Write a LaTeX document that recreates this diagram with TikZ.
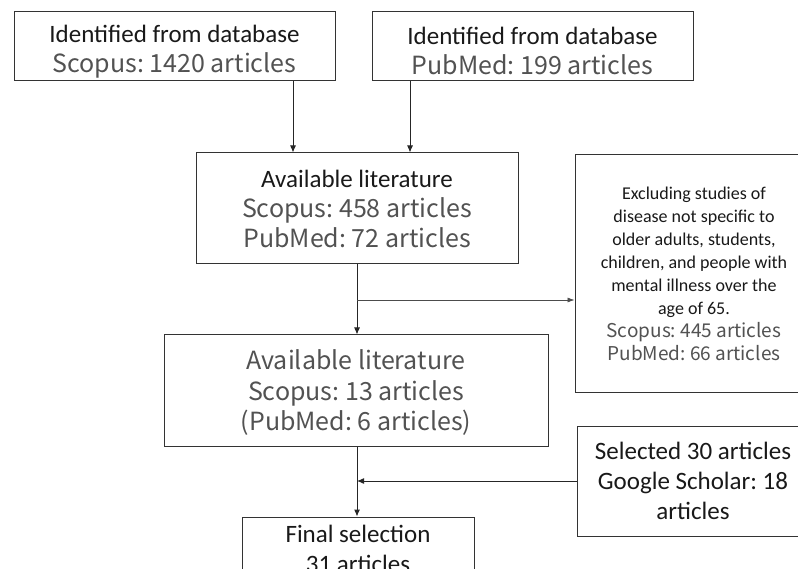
\documentclass[tikz,border=0pt]{standalone}
\usepackage{fontspec}
\setmainfont{Carlito}
\newfontfamily\cjk{Noto Sans CJK JP}
\usetikzlibrary{arrows.meta}
\definecolor{thin}{gray}{0.32}
\begin{document}
\frenchspacing
\begin{tikzpicture}[x=1pt,y=-1pt,
  box/.style={draw=black!80,line width=1pt,rectangle,inner sep=0pt,align=center,text=black!90,
    font=\frenchspacing\fontsize{25}{30}\selectfont},
  jp/.style={},
  arr/.style={draw=black!85,line width=1pt,-{Latex[length=7pt,width=6pt]}},
  thinarr/.style={draw=black!70,line width=0.6pt,-{Latex[length=7pt,width=5pt]}}]
\clip (0,0) rectangle (798,569);
\fill[white] (0,0) rectangle (798,569);

\node[box,minimum width=321pt,minimum height=69pt] (b1) at (174.5,46.5)
  {\rule{0pt}{27pt}Identified from database\\{\cjk\fontsize{25}{30}\selectfont\color{thin}Scopus: 1420 articles}};
\node[box,minimum width=321pt,minimum height=69pt] (b2) at (532.5,46.5)
  {\rule{0pt}{27pt}Identified from database\\{\cjk\fontsize{25}{30}\selectfont\color{thin}PubMed: 199 articles}};
\node[box,minimum width=322pt,minimum height=111pt] (b3) at (357,208.5)
  {Available literature\\{\cjk\fontsize{25}{29}\selectfont\color{thin}Scopus: 458 articles}\\{\cjk\fontsize{25}{29}\selectfont\color{thin}PubMed: 72 articles}};
\node[box,minimum width=238pt,minimum height=237pt,font=\frenchspacing\fontsize{18}{23}\selectfont] (b5) at (694,273.5)
  {Excluding studies of\\disease not specific to\\older adults, students,\\children, and people with\\mental illness over the\\age of 65.\\{\cjk\fontsize{19}{23}\selectfont\color{thin}Scopus: 445 articles}\\{\cjk\fontsize{19}{23}\selectfont\color{thin}PubMed: 66 articles}};
\node[box,minimum width=384pt,minimum height=111pt,font=\frenchspacing\cjk\fontsize{25}{30.5}\selectfont,text=thin] (b4) at (356,390.5)
  {\rule{0pt}{24pt}Available literature\\Scopus: 13 articles\\(PubMed: 6 articles)};
\node[box,minimum width=232pt,minimum height=110pt] (b6) at (693,481)
  {Selected 30 articles\\Google Scholar: 18\\articles};
\node[box,minimum width=232pt,minimum height=64pt] (fin) at (358,549)
  {Final selection\\31 articles};

\coordinate (c1) at (293,0);
\coordinate (c2) at (410,0);
\coordinate (j1) at (357,300);
\draw[arr] (b1.south -| c1) -- (b3.north -| c1);
\draw[arr] (b2.south -| c2) -- (b3.north -| c2);
\draw[arr] (b3.south) -- (b4.north -| b3.south);
\draw[thinarr] (j1) -- (b5.west |- j1);
\draw[arr] (b4.south -| b3.south) -- (fin.north -| b3.south);
\draw[arr] (b6.west) -- (b6.west -| b3.south);
\end{tikzpicture}
\end{document}
